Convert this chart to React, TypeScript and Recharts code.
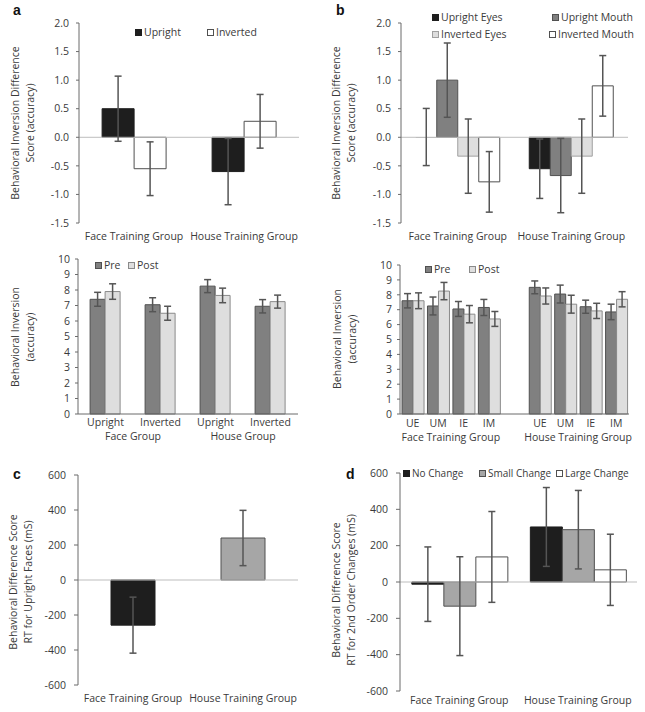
import React from 'react';
import { BarChart, Bar, XAxis, YAxis, ErrorBar, ReferenceLine, Cell } from 'recharts';

const FONT = '"Open Sans", "Noto Sans", sans-serif';
const TEXT = '#3a3a3a';
const AXIS = '#6b6b6b';
const ZERO = '#bdbdbd';
const ERR = '#555555';
const FS = 10.5;

const BLACK = '#1e1e1e';
const DARK_GRAY = '#808080';
const MID_GRAY = '#a6a6a6';
const LIGHT_GRAY = '#dedede';
const WHITE = '#ffffff';
const EDGE = '#505050';

// ---------- Panel a (top): inversion difference score ----------
const trainingGroups = ['Face Training Group', 'House Training Group'];
const aUpright = [0.5, -0.6];
const aUprightErr = [0.57, 0.58];
const aInverted = [-0.55, 0.28];
const aInvertedErr = [0.47, 0.47];
const diffTicks = [-1.5, -1, -0.5, 0, 0.5, 1, 1.5, 2];

// ---------- Panel b (top) ----------
const bUprightEyes = [0.005, -0.55];
const bUprightEyesErr = [0.5, 0.52];
const bUprightMouth = [1.0, -0.67];
const bUprightMouthErr = [0.65, 0.65];
const bInvertedEyes = [-0.33, -0.33];
const bInvertedEyesErr = [0.65, 0.65];
const bInvertedMouth = [-0.78, 0.9];
const bInvertedMouthErr = [0.53, 0.53];

// ---------- Panel a (middle): accuracy pre/post ----------
const amConditions = ['Upright', 'Inverted', 'Upright', 'Inverted'];
const amGroupLabels = ['Face Group', 'House Group'];
const amPre = [7.4, 7.05, 8.25, 6.95];
const amPreErr = [0.45, 0.45, 0.42, 0.43];
const amPost = [7.9, 6.5, 7.65, 7.25];
const amPostErr = [0.5, 0.45, 0.47, 0.42];
const accTicks = [0, 1, 2, 3, 4, 5, 6, 7, 8, 9, 10];

// ---------- Panel b (middle): accuracy by feature ----------
const bmConditions = ['UE', 'UM', 'IE', 'IM', '', 'UE', 'UM', 'IE', 'IM'];
const bmGroupLabels = ['Face Training Group', 'House Training Group'];
const bmPre = [7.6, 7.25, 7.05, 7.15, null, 8.5, 8.05, 7.2, 6.85];
const bmPreErr = [0.48, 0.6, 0.5, 0.54, null, 0.43, 0.6, 0.44, 0.52];
const bmPost = [7.6, 8.25, 6.7, 6.38, null, 7.92, 7.37, 6.92, 7.7];
const bmPostErr = [0.53, 0.58, 0.58, 0.5, null, 0.54, 0.6, 0.51, 0.51];

// ---------- Panel c: RT upright faces ----------
const cValues = [-258, 240];
const cErr = [160, 158];
const rtTicks = [-600, -400, -200, 0, 200, 400, 600];

// ---------- Panel d: RT 2nd order changes ----------
const dNoChange = [-12, 303];
const dNoChangeErr = [205, 217];
const dSmallChange = [-133, 288];
const dSmallChangeErr = [272, 216];
const dLargeChange = [138, 67];
const dLargeChangeErr = [250, 196];

// ---------- data tables ----------
const aData = trainingGroups.map((g, i) => ({
  g, up: aUpright[i], upE: aUprightErr[i], inv: aInverted[i], invE: aInvertedErr[i],
}));
const bData = trainingGroups.map((g, i) => ({
  g,
  ue: bUprightEyes[i], ueE: bUprightEyesErr[i],
  um: bUprightMouth[i], umE: bUprightMouthErr[i],
  ie: bInvertedEyes[i], ieE: bInvertedEyesErr[i],
  im: bInvertedMouth[i], imE: bInvertedMouthErr[i],
}));
const amData = amConditions.map((c, i) => ({
  k: 'am' + i, pre: amPre[i], preE: amPreErr[i], post: amPost[i], postE: amPostErr[i],
}));
const bmData = bmConditions.map((c, i) => ({
  k: 'bm' + i, pre: bmPre[i], preE: bmPreErr[i], post: bmPost[i], postE: bmPostErr[i],
}));
const cData = trainingGroups.map((g, i) => ({ g, v: cValues[i], e: cErr[i] }));
const cColors = [BLACK, MID_GRAY];
const dData = trainingGroups.map((g, i) => ({
  g,
  no: dNoChange[i], noE: dNoChangeErr[i],
  sm: dSmallChange[i], smE: dSmallChangeErr[i],
  lg: dLargeChange[i], lgE: dLargeChangeErr[i],
}));

const tickStyle = { fontSize: FS, fill: TEXT, fontFamily: FONT };

function makeTwoRowTick(conds: string[], groups: { start: number; span: number; label: string }[], step: number) {
  return (props: any) => {
    const { x, y, index } = props;
    const g = groups.find((gr) => gr.start === index);
    return (
      <g>
        <text x={x} y={y} dy="0.71em" textAnchor="middle" fill={TEXT} fontSize={FS} fontFamily={FONT}>
          {conds[index]}
        </text>
        {g ? (
          <text x={x + ((g.span - 1) * step) / 2} y={y + 14} dy="0.71em" textAnchor="middle" fill={TEXT} fontSize={FS} fontFamily={FONT}>
            {g.label}
          </text>
        ) : null}
      </g>
    );
  };
}

function YTitle({ cx, cy, lines }: { cx: number; cy: number; lines: string[] }) {
  return (
    <div
      style={{
        position: 'absolute', left: cx, top: cy, transform: 'translate(-50%,-50%) rotate(-90deg)',
        whiteSpace: 'nowrap', textAlign: 'center', fontSize: FS, lineHeight: '15px', color: TEXT, fontFamily: FONT,
      }}
    >
      {lines.map((l, i) => (
        <div key={i}>{l}</div>
      ))}
    </div>
  );
}

function LegendItem({ left, cy, fill, stroke, label, size = FS }: { left: number; cy: number; fill: string; stroke: string; label: string; size?: number }) {
  return (
    <div
      style={{
        position: 'absolute', left, top: cy - 7, height: 14, display: 'flex', alignItems: 'center',
        whiteSpace: 'nowrap', fontSize: size, color: TEXT, fontFamily: FONT,
      }}
    >
      <span style={{ display: 'inline-block', width: 5, height: 5, background: fill, border: `1px solid ${stroke}`, marginRight: 2 }} />
      <span>{label}</span>
    </div>
  );
}

function Letter({ left, top, ch }: { left: number; top: number; ch: string }) {
  return (
    <div style={{ position: 'absolute', left, top, fontSize: 14, lineHeight: '14px', fontWeight: 'bold', fontFamily: '"Liberation Sans", Arial, sans-serif', color: '#111' }}>
      {ch}
    </div>
  );
}

function Pos({ left, top, children }: { left: number; top: number; children: React.ReactNode }) {
  return <div style={{ position: 'absolute', left, top }}>{children}</div>;
}

export default function App() {
  // layout constants for the two-row category labels
  const amStep = (322 - 78 - 24) / amConditions.length;
  const bmStep = (323 - 78 - 16) / bmConditions.length;
  const amTick = makeTwoRowTick(amConditions, [
    { start: 0, span: 2, label: amGroupLabels[0] },
    { start: 2, span: 2, label: amGroupLabels[1] },
  ], amStep);
  const bmTick = makeTwoRowTick(bmConditions, [
    { start: 0, span: 4, label: bmGroupLabels[0] },
    { start: 5, span: 4, label: bmGroupLabels[1] },
  ], bmStep);

  return (
    <div style={{ position: 'absolute', left: 0, top: 0, width: 645, height: 712, background: '#fff', overflow: 'hidden', fontFamily: FONT }}>
      {/* Panel a top */}
      <Pos left={0} top={0}>
        <BarChart width={322} height={250} data={aData} margin={{ top: 23, right: 23, bottom: 7, left: 0 }} barCategoryGap="21%" barGap={0}>
          <XAxis dataKey="g" axisLine={false} tickLine={false} tick={tickStyle} tickMargin={4} height={20} interval={0} />
          <YAxis width={79} domain={[-1.5, 2]} ticks={diffTicks} tickFormatter={(v: number) => v.toFixed(1)} stroke={AXIS} tick={tickStyle} tickSize={3} tickMargin={7} interval={0} />
          <ReferenceLine y={0} stroke={ZERO} />
          <Bar dataKey="up" fill={BLACK} stroke={BLACK} isAnimationActive={false}>
            <ErrorBar dataKey="upE" width={3.5} stroke={ERR} />
          </Bar>
          <Bar dataKey="inv" fill={WHITE} stroke={EDGE} isAnimationActive={false}>
            <ErrorBar dataKey="invE" width={3.5} stroke={ERR} />
          </Bar>
        </BarChart>
      </Pos>
      <YTitle cx={23} cy={123} lines={['Behavioral Inversion Difference', 'Score (accuracy)']} />
      <LegendItem left={135} cy={32} fill={BLACK} stroke={BLACK} label="Upright" />
      <LegendItem left={207} cy={32} fill={WHITE} stroke={EDGE} label="Inverted" />

      {/* Panel b top */}
      <Pos left={322} top={0}>
        <BarChart width={323} height={250} data={bData} margin={{ top: 23, right: 17, bottom: 7, left: 0 }} barCategoryGap="13%" barGap={0}>
          <XAxis dataKey="g" axisLine={false} tickLine={false} tick={tickStyle} tickMargin={4} height={20} interval={0} />
          <YAxis width={79} domain={[-1.5, 2]} ticks={diffTicks} tickFormatter={(v: number) => v.toFixed(1)} stroke={AXIS} tick={tickStyle} tickSize={3} tickMargin={7} interval={0} />
          <ReferenceLine y={0} stroke={ZERO} />
          <Bar dataKey="ue" fill={BLACK} stroke={BLACK} isAnimationActive={false}>
            {bData.map((d, i) => (
              <Cell key={d.g} fill={BLACK} stroke={Math.abs(d.ue) < 0.05 ? 'none' : BLACK} />
            ))}
            <ErrorBar dataKey="ueE" width={3.5} stroke={ERR} />
          </Bar>
          <Bar dataKey="um" fill={DARK_GRAY} stroke={EDGE} isAnimationActive={false}>
            <ErrorBar dataKey="umE" width={3.5} stroke={ERR} />
          </Bar>
          <Bar dataKey="ie" fill={LIGHT_GRAY} stroke="#a0a0a0" isAnimationActive={false}>
            <ErrorBar dataKey="ieE" width={3.5} stroke={ERR} />
          </Bar>
          <Bar dataKey="im" fill={WHITE} stroke={EDGE} isAnimationActive={false}>
            <ErrorBar dataKey="imE" width={3.5} stroke={ERR} />
          </Bar>
        </BarChart>
      </Pos>
      <YTitle cx={344} cy={123} lines={['Behavioral Inversion Difference', 'Score (accuracy)']} />
      <LegendItem left={432} cy={17} fill={BLACK} stroke={BLACK} label="Upright Eyes" />
      <LegendItem left={552} cy={17} fill={DARK_GRAY} stroke={EDGE} label="Upright Mouth" />
      <LegendItem left={432} cy={34} fill={LIGHT_GRAY} stroke="#a0a0a0" label="Inverted Eyes" />
      <LegendItem left={549} cy={34} fill={WHITE} stroke={EDGE} label="Inverted Mouth" />

      {/* Panel a middle */}
      <Pos left={0} top={250}>
        <BarChart width={322} height={230} data={amData} margin={{ top: 9, right: 24, bottom: 36, left: 0 }} barCategoryGap="22%" barGap={0}>
          <XAxis dataKey="k" stroke={AXIS} tickLine={false} tickSize={0} tickMargin={5} height={30} interval={0} tick={amTick} />
          <YAxis width={78} domain={[0, 10]} ticks={accTicks} stroke={AXIS} tick={tickStyle} tickSize={3} tickMargin={5} interval={0} />
          <Bar dataKey="pre" fill={DARK_GRAY} stroke={EDGE} isAnimationActive={false}>
            <ErrorBar dataKey="preE" width={3.5} stroke={ERR} />
          </Bar>
          <Bar dataKey="post" fill={LIGHT_GRAY} stroke="#8a8a8a" isAnimationActive={false}>
            <ErrorBar dataKey="postE" width={3.5} stroke={ERR} />
          </Bar>
        </BarChart>
      </Pos>
      <YTitle cx={23} cy={337} lines={['Behavioral Inversion', '(accuracy)']} />
      <LegendItem left={95} cy={265} fill={DARK_GRAY} stroke={EDGE} label="Pre" />
      <LegendItem left={128} cy={265} fill={LIGHT_GRAY} stroke="#8a8a8a" label="Post" />

      {/* Panel b middle */}
      <Pos left={322} top={250}>
        <BarChart width={323} height={230} data={bmData} margin={{ top: 15, right: 16, bottom: 36, left: 0 }} barCategoryGap="8%" barGap={0}>
          <XAxis dataKey="k" stroke={AXIS} tickLine={false} tickSize={0} tickMargin={6} height={30} interval={0} tick={bmTick} />
          <YAxis width={78} domain={[0, 10]} ticks={accTicks} stroke={AXIS} tick={tickStyle} tickSize={3} tickMargin={5} interval={0} />
          <Bar dataKey="pre" fill={DARK_GRAY} stroke={EDGE} isAnimationActive={false}>
            <ErrorBar dataKey="preE" width={3.5} stroke={ERR} />
          </Bar>
          <Bar dataKey="post" fill={LIGHT_GRAY} stroke="#8a8a8a" isAnimationActive={false}>
            <ErrorBar dataKey="postE" width={3.5} stroke={ERR} />
          </Bar>
        </BarChart>
      </Pos>
      <YTitle cx={345} cy={339} lines={['Behavioral Inversion', '(accuracy)']} />
      <LegendItem left={425} cy={269} fill={DARK_GRAY} stroke={EDGE} label="Pre" />
      <LegendItem left={469} cy={269} fill={LIGHT_GRAY} stroke="#8a8a8a" label="Post" />

      {/* Panel c */}
      <Pos left={0} top={460}>
        <BarChart width={322} height={252} data={cData} margin={{ top: 15, right: 24, bottom: 7, left: 0 }} barCategoryGap="30%">
          <XAxis dataKey="g" axisLine={false} tickLine={false} tick={tickStyle} tickMargin={4} height={20} interval={0} />
          <YAxis width={78} domain={[-600, 600]} ticks={rtTicks} stroke={AXIS} tick={tickStyle} tickSize={4} tickMargin={8} interval={0} />
          <ReferenceLine y={0} stroke={ZERO} />
          <Bar dataKey="v" stroke={EDGE} isAnimationActive={false}>
            {cData.map((d, i) => (
              <Cell key={d.g} fill={cColors[i]} stroke={i === 0 ? BLACK : EDGE} />
            ))}
            <ErrorBar dataKey="e" width={3.5} stroke={ERR} />
          </Bar>
        </BarChart>
      </Pos>
      <YTitle cx={21} cy={582} lines={['Behavioral Difference Score', 'RT for Upright Faces (mS)']} />

      {/* Panel d */}
      <Pos left={322} top={460}>
        <BarChart width={323} height={252} data={dData} margin={{ top: 13, right: 8, bottom: 5, left: 0 }} barCategoryGap="10%" barGap={0}>
          <XAxis dataKey="g" axisLine={false} tickLine={false} tick={tickStyle} tickMargin={0} height={16} interval={0} />
          <YAxis width={78} domain={[-600, 600]} ticks={rtTicks} stroke={AXIS} tick={tickStyle} tickSize={4} tickMargin={8} interval={0} />
          <ReferenceLine y={0} stroke={ZERO} />
          <Bar dataKey="no" fill={BLACK} stroke={BLACK} isAnimationActive={false}>
            <ErrorBar dataKey="noE" width={3.5} stroke={ERR} />
          </Bar>
          <Bar dataKey="sm" fill={MID_GRAY} stroke={EDGE} isAnimationActive={false}>
            <ErrorBar dataKey="smE" width={3.5} stroke={ERR} />
          </Bar>
          <Bar dataKey="lg" fill={WHITE} stroke={EDGE} isAnimationActive={false}>
            <ErrorBar dataKey="lgE" width={3.5} stroke={ERR} />
          </Bar>
        </BarChart>
      </Pos>
      <YTitle cx={344} cy={590} lines={['Behavioral Difference Score', 'RT for 2nd Order Changes (mS)']} />
      <LegendItem left={403} cy={473} fill={BLACK} stroke={BLACK} label="No Change" size={10} />
      <LegendItem left={479} cy={473} fill={MID_GRAY} stroke={EDGE} label="Small Change" size={10} />
      <LegendItem left={556} cy={473} fill={WHITE} stroke={EDGE} label="Large Change" size={10} />

      <Letter left={13} top={3} ch="a" />
      <Letter left={336} top={3} ch="b" />
      <Letter left={13} top={467} ch="c" />
      <Letter left={346} top={467} ch="d" />
    </div>
  );
}
